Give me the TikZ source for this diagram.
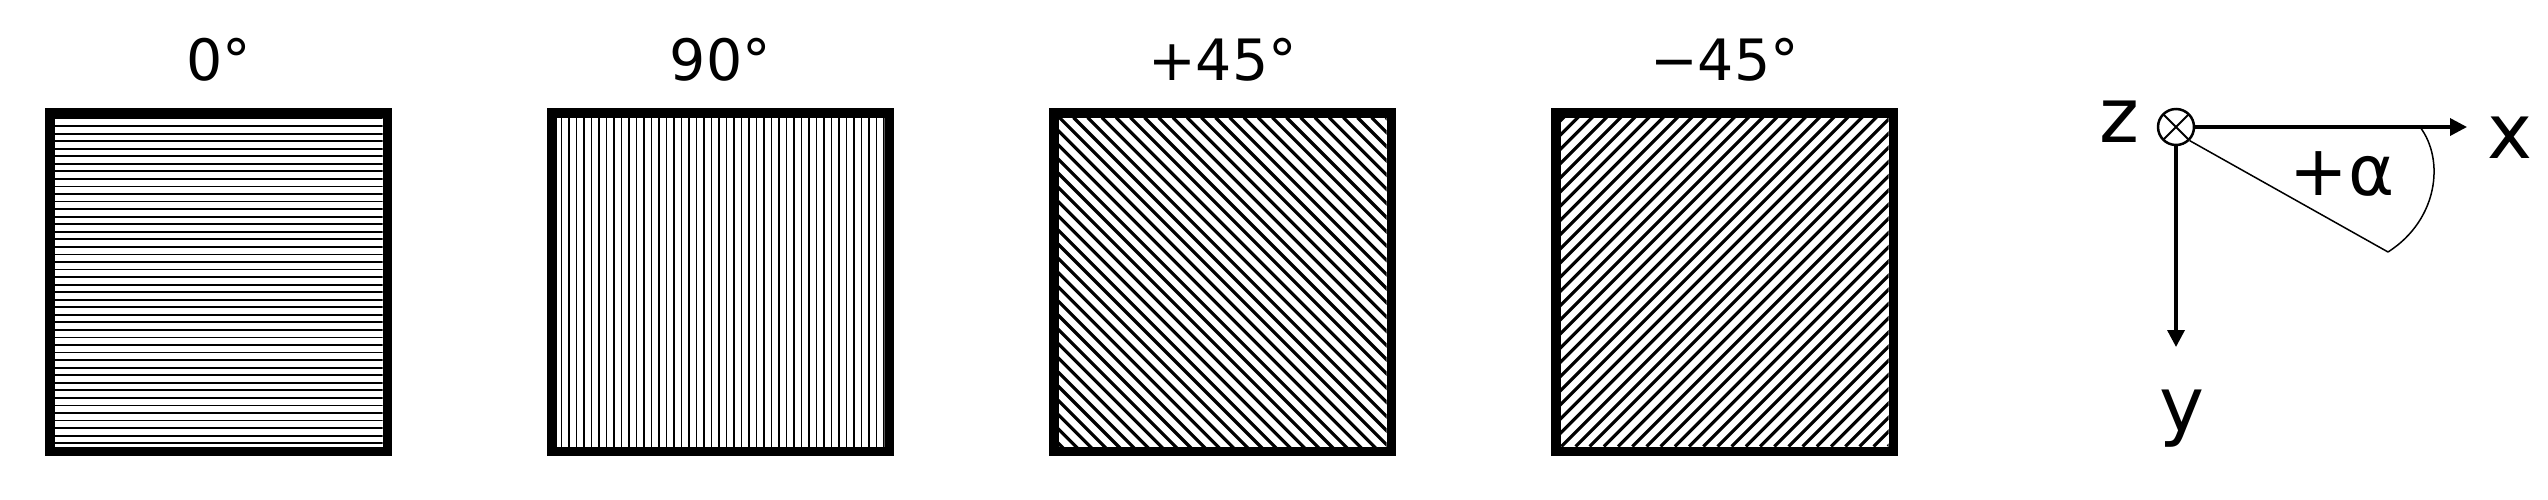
\documentclass[tikz,border=0pt]{standalone}
\usepackage{fontspec}
\setmainfont{DejaVu Sans}
\usetikzlibrary{arrows.meta}
\begin{document}
\begin{tikzpicture}[x=1pt,y=-1pt,
  frame/.style={line width=9.5pt},
  hatchthin/.style={line width=1.8pt},
  hatchdiag/.style={line width=3.2pt},
  lbl/.style={font=\fontsize{57}{60}\selectfont, anchor=base, inner sep=0pt},
  axlbl/.style={font=\fontsize{76}{80}\selectfont, anchor=base, inner sep=0pt},
  axis/.style={line width=3.5pt,-{Triangle[length=17pt,width=17pt]}},
  thinline/.style={line width=1.5pt}]
\useasboundingbox (0,0) rectangle (2548,499);

% Box 1: 0 deg
\begin{scope}
  \clip (54.5,117.5) rectangle (382.5,446.5);
  \foreach \k in {0,...,43} \draw[hatchthin] (54.5,{118.5+7.55*\k}) -- (382.5,{118.5+7.55*\k});
\end{scope}
\draw[frame] (49.75,112.75) rectangle (387.25,451.25);
\node[lbl] (l1) at (218.5,80) {0°};

% Box 2: 90 deg
\begin{scope}
  \clip (556.5,117.5) rectangle (884.5,446.5);
  \foreach \k in {0,...,43} \draw[hatchthin] ({561.5+7.5*\k},117.5) -- ({561.5+7.5*\k},446.5);
\end{scope}
\draw[frame] (551.75,112.75) rectangle (889.25,451.25);
\node[lbl] (l2) at (720.5,80) {90°};

% Box 3: +45 deg
\begin{scope}
  \clip (1058.5,117.5) rectangle (1386.5,446.5);
  \foreach \k in {0,...,48} \draw[hatchdiag] ({1058.5-340+14.2*\k},117.5) -- ({1058.5+14.2*\k},457.5);
\end{scope}
\draw[frame] (1053.75,112.75) rectangle (1391.25,451.25);
\node[lbl] (l3) at (1222.5,80) {+45°};

% Box 4: -45 deg
\begin{scope}
  \clip (1560.5,117.5) rectangle (1888.5,446.5);
  \foreach \k in {0,...,48} \draw[hatchdiag] ({1560.5-340+14.2*\k},446.5) -- ({1560.5+14.2*\k},106.5);
\end{scope}
\draw[frame] (1555.75,112.75) rectangle (1893.25,451.25);
\node[lbl] (l4) at (1724.5,80) {−45°};

% Coordinate system
\node[circle, draw, line width=2.5pt, minimum size=36pt, inner sep=0pt,
  path picture={\draw[line width=2pt]
    (path picture bounding box.south west) -- (path picture bounding box.north east)
    (path picture bounding box.north west) -- (path picture bounding box.south east);}]
  (o) at (2176,127) {};
\coordinate (xend) at (2467,127);
\coordinate (yend) at (2176,347);
\coordinate (arcstart) at (2420,127);
\coordinate (aend) at (2388,252);
\draw[axis] (o.east) -- (xend);
\draw[axis] (o.south) -- (yend);
\draw[thinline] (o.-45) -- (aend);
\draw[thinline] (arcstart) .. controls (2445,160) and (2438,220) .. (aend);
\node[axlbl] (zl) at (2119,142) {z};
\node[axlbl] (xl) at (2510,158) {x};
\node[axlbl] (yl) at (2182,431) {y};
\node[axlbl, font=\fontsize{70}{74}\selectfont] (al) at (2342,195) {+α};
\end{tikzpicture}
\end{document}
